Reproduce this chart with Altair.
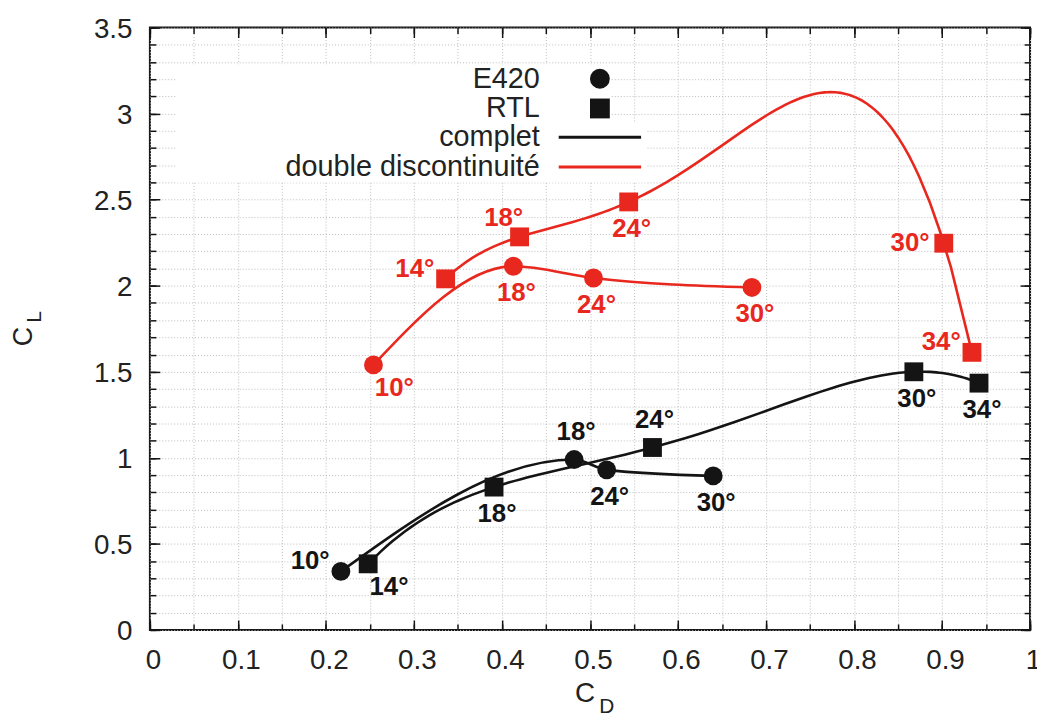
import altair as alt
import pandas as pd

FONT = "Liberation Sans"
BLACK = "#141414"
RED = "#e8281e"

configs = ["complet", "double discontinuité"]
airfoils = ["E420", "RTL"]

e420_angle = [10, 18, 24, 30]
rtl_angle = [14, 18, 24, 30, 34]

e420_complet_cd = [0.217, 0.482, 0.519, 0.640]
e420_complet_cl = [0.34, 0.99, 0.93, 0.895]
rtl_complet_cd = [0.248, 0.391, 0.571, 0.868, 0.942]
rtl_complet_cl = [0.384, 0.83, 1.06, 1.50, 1.434]
e420_double_cd = [0.254, 0.413, 0.504, 0.684]
e420_double_cl = [1.54, 2.113, 2.045, 1.99]
rtl_double_cd = [0.336, 0.420, 0.544, 0.902, 0.934]
rtl_double_cl = [2.04, 2.284, 2.487, 2.247, 1.613]

# where each angle label sits relative to its marker
e420_complet_place = ["ul", "a", "b", "b"]
rtl_complet_place = ["br", "b", "a", "b", "b"]
e420_double_place = ["br", "b", "b", "b"]
rtl_double_place = ["ul", "al", "b", "l", "ul"]

x_major = [0, 0.1, 0.2, 0.3, 0.4, 0.5, 0.6, 0.7, 0.8, 0.9, 1]
x_minor = [0, 0.05, 0.1, 0.15, 0.2, 0.25, 0.3, 0.35, 0.4, 0.45, 0.5,
           0.55, 0.6, 0.65, 0.7, 0.75, 0.8, 0.85, 0.9, 0.95, 1]
y_major = [0, 0.5, 1, 1.5, 2, 2.5, 3, 3.5]
y_minor = [0, 0.1, 0.2, 0.3, 0.4, 0.5, 0.6, 0.7, 0.8, 0.9, 1, 1.1, 1.2,
           1.3, 1.4, 1.5, 1.6, 1.7, 1.8, 1.9, 2, 2.1, 2.2, 2.3, 2.4, 2.5,
           2.6, 2.7, 2.8, 2.9, 3, 3.1, 3.2, 3.3, 3.4, 3.5]

rows = []


def add(airfoil, config, angles, cd, cl, place):
    for a, x, y, p in zip(angles, cd, cl, place):
        rows.append({"airfoil": airfoil, "config": config, "angle": a,
                     "CD": x, "CL": y, "place": p, "lab": f"{a}°"})


add("E420", "complet", e420_angle, e420_complet_cd, e420_complet_cl, e420_complet_place)
add("RTL", "complet", rtl_angle, rtl_complet_cd, rtl_complet_cl, rtl_complet_place)
add("E420", "double discontinuité", e420_angle, e420_double_cd, e420_double_cl, e420_double_place)
add("RTL", "double discontinuité", rtl_angle, rtl_double_cd, rtl_double_cl, rtl_double_place)
df = pd.DataFrame(rows)

W, H = 887, 607

xs = alt.Scale(domain=[0, 1], nice=False, zero=False)
ys = alt.Scale(domain=[0, 3.5], nice=False, zero=False)
col = alt.Color("config:N", scale=alt.Scale(domain=configs, range=[BLACK, RED]), legend=None)
shp = alt.Shape("airfoil:N", scale=alt.Scale(domain=airfoils, range=["circle", "square"]), legend=None)


def ex(axis):
    return alt.X("CD:Q", scale=xs, axis=axis)


def ey(axis):
    return alt.Y("CL:Q", scale=ys, axis=axis)


def tick_axis(orient, offset, values, size):
    return alt.Axis(orient=orient, offset=offset, values=values, labels=False,
                    domain=False, grid=False, ticks=True, tickSize=size,
                    tickWidth=1.5, tickColor=BLACK, title=None, zindex=1)


ax_grid_x = alt.Axis(orient="bottom", values=x_minor, grid=True, gridColor="#bcbcbc",
                     gridDash=[1, 2], gridWidth=1, ticks=False, labels=False,
                     domain=False, title=None, zindex=0)
ax_grid_y = alt.Axis(orient="left", values=y_minor, grid=True, gridColor="#bcbcbc",
                     gridDash=[1, 2], gridWidth=1, ticks=False, labels=False,
                     domain=False, title=None, zindex=0)

ax_lab_x = alt.Axis(orient="bottom", values=x_major, format="~g", labelFont=FONT,
                    labelFontSize=28, labelColor="#222222", labelPadding=17,
                    labelOffset=3, labelFlush=False, labelOverlap=False,
                    ticks=False, tickSize=0, domain=False, grid=False,
                    title="C", titleFont=FONT, titleFontSize=28, titleFontWeight="normal",
                    titleColor="#222222", titleX=438, titleY=64, titleAlign="center",
                    titleBaseline="middle")
ax_lab_y = alt.Axis(orient="left", values=y_major, format="~g", labelFont=FONT,
                    labelFontSize=28, labelColor="#222222", labelPadding=18,
                    labelOffset=2, labelFlush=False, labelOverlap=False,
                    ticks=False, tickSize=0, domain=False, grid=False,
                    title="C", titleFont=FONT, titleFontSize=27, titleFontWeight="normal",
                    titleColor="#222222", titleAngle=270, titleX=-127, titleY=311,
                    titleAlign="center", titleBaseline="middle")
ax_sub_x = alt.Axis(orient="bottom", values=x_major, labels=False, ticks=False,
                    domain=False, grid=False, title="D", titleFont=FONT,
                    titleFontSize=21, titleFontWeight="normal", titleColor="#222222",
                    titleX=460, titleY=77, titleAlign="center", titleBaseline="middle")
ax_sub_y = alt.Axis(orient="left", values=y_major, labels=False, ticks=False,
                    domain=False, grid=False, title="L", titleFont=FONT,
                    titleFontSize=21, titleFontWeight="normal", titleColor="#222222",
                    titleAngle=270, titleX=-116, titleY=291, titleAlign="center",
                    titleBaseline="middle")

base = alt.Chart(df)

grid_layer = base.mark_point(opacity=0).encode(x=ex(ax_grid_x), y=ey(ax_grid_y))

e420_lines = base.transform_filter(alt.datum.airfoil == "E420").mark_line(
    interpolate="monotone", strokeWidth=2.6).encode(
    x=ex(ax_lab_x), y=ey(ax_lab_y), color=col)

rtl_lines = base.transform_filter(alt.datum.airfoil == "RTL").transform_regression(
    "CD", "CL", method="poly", order=4, groupby=["config"]).mark_line(
    strokeWidth=2.6).encode(x=ex(ax_sub_x), y=ey(ax_sub_y), color=col)

points = base.mark_point(filled=True, size=361, opacity=1).encode(
    x=ex(tick_axis("top", -H, x_major, 10)),
    y=ey(tick_axis("right", -W, y_major, 10)),
    color=col, shape=shp)

PLACE = {"b": (3, 27), "a": (2, -28), "l": (-34, 0), "ul": (-31, -10),
         "al": (-16, -19), "br": (21, 23)}
extra_axes = [
    (tick_axis("bottom", -H, x_major, 10), tick_axis("left", -W, y_major, 10)),
    (tick_axis("top", -H, x_minor, 6), tick_axis("right", -W, y_minor, 6)),
    (tick_axis("bottom", -H, x_minor, 6), tick_axis("left", -W, y_minor, 6)),
]
text_layers = []
for i, (key, (dx, dy)) in enumerate(PLACE.items()):
    if i < len(extra_axes):
        axx, axy = extra_axes[i]
    else:
        axx, axy = None, None
    text_layers.append(
        base.transform_filter(alt.datum.place == key).mark_text(
            font=FONT, fontSize=26, fontWeight="bold", dx=dx, dy=dy,
            align="center", baseline="middle").encode(
            x=ex(axx), y=ey(axy), text="lab:N", color=col))


def legend_props(y, rowpad):
    return dict(title=None, orient="none", legendX=27, legendY=y,
                direction="vertical", fillColor="white", padding=0,
                labelAlign="right", labelOffset={"expr": "-75"}, symbolOffset=412,
                labelFont=FONT, labelFontSize=29, labelColor="#222222",
                labelLimit=600, symbolSize=400, symbolOpacity=1,
                rowPadding={"expr": str(rowpad)})


# legend for marker shapes (airfoils)
leg_a = alt.Legend(symbolStrokeWidth=0, symbolFillColor=BLACK, **legend_props(37, -6))
legend_a = alt.Chart(pd.DataFrame({"airfoil_leg": airfoils})).transform_filter(
    alt.datum.airfoil_leg == "none").mark_point(
    filled=True, opacity=1, color=BLACK, size=400).encode(
    x=ex(None), y=ey(None),
    shape=alt.Shape("airfoil_leg:N",
                    scale=alt.Scale(domain=airfoils, range=["circle", "square"]),
                    legend=leg_a))

# legends for line styles (configurations), one per configuration
LINE = "M-4.15,0L4.15,0"
line_legends = []
for k, (cfg, colr) in enumerate(zip(configs, [BLACK, RED])):
    fld = f"cfg_leg{k}"
    lg = alt.Legend(symbolStrokeWidth=3, symbolStrokeColor=colr,
                    symbolFillColor="transparent", **legend_props(96 + 30 * k, 0))
    line_legends.append(
        alt.Chart(pd.DataFrame({fld: [cfg]})).transform_filter(
            f"datum.{fld} == 'none'").mark_point(
            filled=False, opacity=1, color=colr, strokeWidth=3, size=400).encode(
            x=ex(None), y=ey(None),
            shape=alt.Shape(f"{fld}:N", scale=alt.Scale(domain=[cfg], range=[LINE]),
                            legend=lg)))

chart = alt.layer(grid_layer, e420_lines, rtl_lines, points, *text_layers,
                  legend_a, *line_legends).resolve_scale(
    shape="independent").resolve_axis(x="independent", y="independent").properties(
    width=W, height=H, autosize=alt.AutoSizeParams(type="none"),
    padding={"left": 143, "top": 17, "right": 7, "bottom": 84},
    background="white").configure_view(stroke=BLACK, strokeWidth=2)

chart.save("out.html", embed_options={"renderer": "svg", "actions": False})
